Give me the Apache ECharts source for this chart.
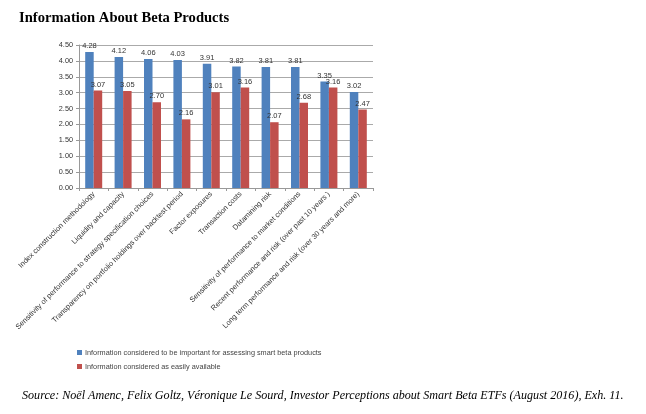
<!DOCTYPE html>
<html><head><meta charset="utf-8">
<script src="https://cdn.jsdelivr.net/npm/echarts@6/dist/echarts.min.js"></script>
<style>html,body{margin:0;padding:0;background:#fff;}#c{width:646px;height:414px;}</style>
</head><body><div id="c"></div>
<script>
const categories = ["Index construction methodology","Liquidity and capacity","Sensitivity of performance to strategy specification choices","Transparency on portfolio holdings over backtest period","Factor exposures","Transaction costs","Datamining risk","Sensitivity of performance to market conditions","Recent performance and risk (over past 10 years )","Long term performance and risk (over 30 years and more)"];
const important = [4.28,4.12,4.06,4.03,3.91,3.82,3.81,3.81,3.35,3.02];
const available = [3.07,3.05,2.70,2.16,3.01,3.16,2.07,2.68,3.16,2.47];
const seriesNames = ["Information considered to be important for assessing smart beta products","Information considered as easily available"];
const yTicks = {min:0, max:4.5, interval:0.5};

const chart = echarts.init(document.getElementById('c'));
const lbl = {show:true, position:'top', fontSize:7.5, color:'#333', fontFamily:'Liberation Sans', distance:2, formatter:p=>p.value.toFixed(2)};
chart.setOption({
  animation:false,
  title:[{text:'Information About Beta Products', left:14, top:6, textStyle:{fontFamily:'Liberation Serif', fontWeight:'bold', fontSize:14.6, color:'#000'}},
         {text:'Source: Noël Amenc, Felix Goltz, Véronique Le Sourd, Investor Perceptions about Smart Beta ETFs (August 2016), Exh. 11.', left:17, top:385, textStyle:{fontFamily:'Liberation Serif', fontStyle:'italic', fontWeight:'normal', fontSize:12.1, color:'#000'}}],
  legend:{orient:'vertical', left:72, top:344, itemWidth:5, itemHeight:5, itemGap:7, icon:'rect', textStyle:{fontSize:7.3, color:'#444', fontFamily:'Liberation Sans', padding:[0,0,0,-2]}},
  grid:{left:79, top:45, width:294, height:143, containLabel:false},
  xAxis:{type:'category', data:categories, axisTick:{show:true, alignWithLabel:false, length:3, lineStyle:{color:'#999'}}, axisLine:{lineStyle:{color:'#999'}},
    axisLabel:{rotate:45, interval:0, fontSize:7.4, color:'#333', fontFamily:'Liberation Sans', margin:5}},
  yAxis:{type:'value', min:yTicks.min, max:yTicks.max, interval:yTicks.interval, axisLine:{show:true, lineStyle:{color:'#999'}}, axisTick:{show:true, length:3, lineStyle:{color:'#999'}},
    axisLabel:{fontSize:7.3, color:'#333', fontFamily:'Liberation Sans', margin:6, formatter:v=>v.toFixed(2)}, splitLine:{lineStyle:{color:'#aaa'}}},
  series:[
    {name:seriesNames[0], type:'bar', data:important, itemStyle:{color:'#4F81BD'}, barWidth:8.5, barGap:'0%', label:lbl},
    {name:seriesNames[1], type:'bar', data:available, itemStyle:{color:'#C0504D'}, barWidth:8.5, label:lbl}
  ]
});
</script></body></html>
